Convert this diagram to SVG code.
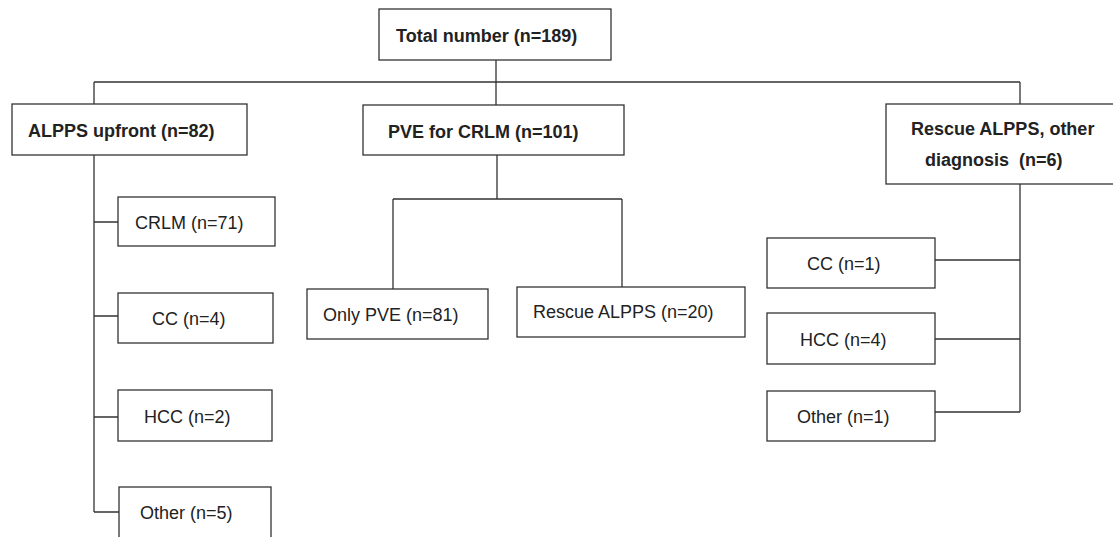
<svg xmlns="http://www.w3.org/2000/svg" width="1113" height="537" viewBox="0 0 1113 537">
<style>
.box{fill:#fff;stroke:#333;stroke-width:1.3}
.ln{fill:none;stroke:#333;stroke-width:1.3}
.t{font-family:"Liberation Sans",Arial,sans-serif;font-size:18px;fill:#222}
.b{font-weight:bold}
</style>
<rect width="1113" height="537" fill="#fff"/>
<g id="connectors">
<path class="ln" d="M496,60V105M94,82H1020M94,82V104M1020,82V104"/>
<path class="ln" d="M94,155V512M94,222H118M94,316H118M94,417H118M94,512H119"/>
<path class="ln" d="M497,155V199M393,199H622M393,199V289M622,199V287"/>
<path class="ln" d="M1020,184V412M935,260H1020M935,339H1020M935,412H1020"/>
</g>
<g id="n-total"><rect class="box" x="379" y="9" width="232" height="51"/><text class="t b" x="396" y="42">Total number (n=189)</text></g>
<g id="n-alpps"><rect class="box" x="12" y="104" width="235" height="51"/><text class="t b" x="28" y="137">ALPPS upfront (n=82)</text></g>
<g id="n-pve"><rect class="box" x="363" y="105" width="261" height="50"/><text class="t b" x="388" y="138">PVE for CRLM (n=101)</text></g>
<g id="n-rescue-other"><rect class="box" x="886" y="104" width="240" height="80"/><text class="t b" x="911" y="135">Rescue ALPPS, other</text><text class="t b" x="925" y="166" xml:space="preserve">diagnosis  (n=6)</text></g>
<g id="n-crlm"><rect class="box" x="118" y="197" width="157" height="49"/><text class="t" x="135" y="229">CRLM (n=71)</text></g>
<g id="n-cc4"><rect class="box" x="118" y="293" width="155" height="50"/><text class="t" x="152" y="325">CC (n=4)</text></g>
<g id="n-hcc2"><rect class="box" x="118" y="390" width="154" height="51"/><text class="t" x="144" y="423">HCC (n=2)</text></g>
<g id="n-other5"><rect class="box" x="119" y="487" width="152" height="60"/><text class="t" x="140" y="519">Other (n=5)</text></g>
<g id="n-onlypve"><rect class="box" x="307" y="289" width="181" height="50"/><text class="t" x="323" y="321">Only PVE (n=81)</text></g>
<g id="n-rescue20"><rect class="box" x="517" y="287" width="228" height="50"/><text class="t" x="533" y="318">Rescue ALPPS (n=20)</text></g>
<g id="n-cc1"><rect class="box" x="767" y="238" width="168" height="50"/><text class="t" x="807" y="270">CC (n=1)</text></g>
<g id="n-hcc4"><rect class="box" x="767" y="313" width="168" height="51"/><text class="t" x="800" y="346">HCC (n=4)</text></g>
<g id="n-other1"><rect class="box" x="767" y="391" width="168" height="50"/><text class="t" x="797" y="423">Other (n=1)</text></g>
</svg>
